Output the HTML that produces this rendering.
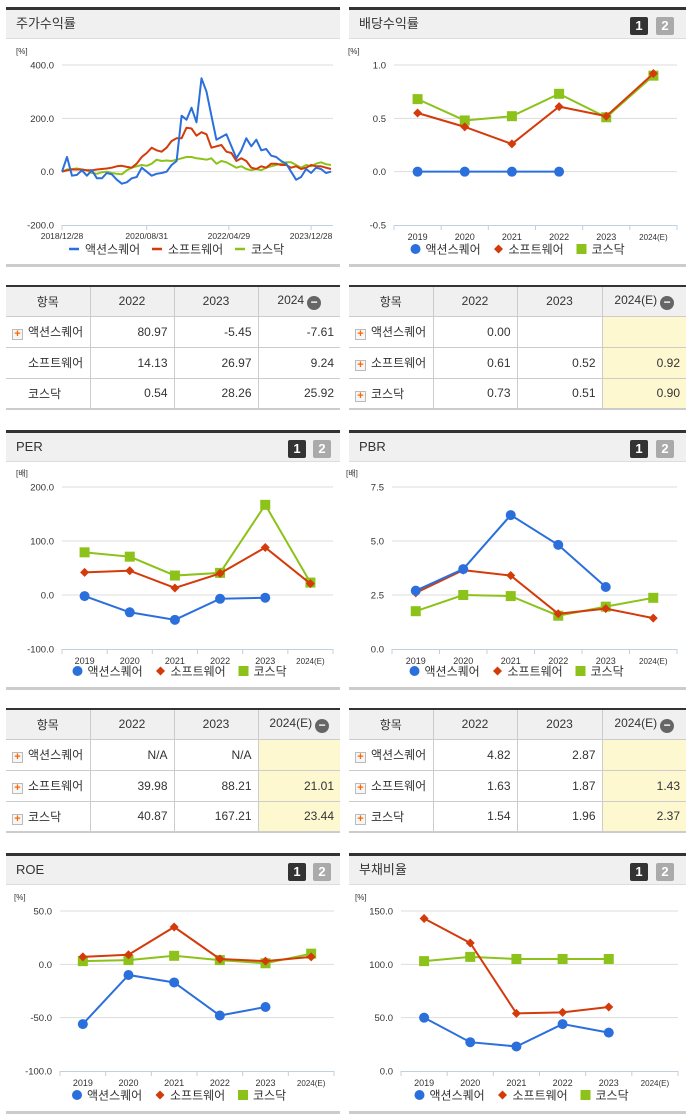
<!DOCTYPE html>
<html><head><meta charset="utf-8">
<style>
*{box-sizing:border-box;margin:0;padding:0}
body{width:691px;height:1115px;background:#fff;position:relative;overflow:hidden;font-family:"Liberation Sans","Noto Sans CJK KR",sans-serif;color:#333}
.hd{position:absolute;height:32px;background:#f0f0f0;border-top:3px solid #333;border-bottom:1px solid #ddd;font-size:13px;line-height:28px;padding-left:10px;color:#333}
.foot{position:absolute;height:3px;background:#ccc}
.b1,.b2{position:absolute;top:7px;width:18px;height:18px;border-radius:2px;color:#fff;font-size:13px;font-weight:bold;line-height:18px;text-align:center}
.b1{background:#333}.b2{background:#aaa}
table{position:absolute;border-collapse:collapse;font-size:12px;table-layout:fixed}
table{border-top:2px solid #333;border-bottom:2px solid #ccc}
th{background:#f0f0f0;font-weight:normal;height:30px;border:1px solid #ccc;border-top:none;text-align:center}
td{height:31px;border:1px solid #ccc;text-align:right;padding-right:6px}
td:first-child{text-align:left;padding-left:6px}
tr>*:first-child{border-left:none}tr>*:last-child{border-right:none}
.y{background:#fdf8d0}
.pl{display:inline-block;width:11px;height:11px;border:1px solid #bbb;background:#f6f6f6;color:#f60;font-size:11px;line-height:9px;text-align:center;font-weight:bold;margin-right:5px;vertical-align:-1px}
.mn{display:inline-block;width:14px;height:14px;border-radius:7px;background:#666;color:#fff;font-size:12px;line-height:13px;text-align:center;font-weight:bold;vertical-align:-2px;margin-left:3px}
svg{position:absolute;left:0;top:0}
</style></head><body>
<div class="hd" style="left:6px;top:7px;width:334px">주가수익률</div>
<div class="hd" style="left:349px;top:7px;width:337px">배당수익률<span class="b1" style="left:281px">1</span><span class="b2" style="left:307px">2</span></div>
<div class="foot" style="left:6px;top:264px;width:334px"></div>
<div class="foot" style="left:349px;top:264px;width:337px"></div>

<div class="hd" style="left:6px;top:430px;width:334px">PER<span class="b1" style="left:282px">1</span><span class="b2" style="left:307px">2</span></div>
<div class="hd" style="left:349px;top:430px;width:337px">PBR<span class="b1" style="left:281px">1</span><span class="b2" style="left:307px">2</span></div>
<div class="foot" style="left:6px;top:687px;width:334px"></div>
<div class="foot" style="left:349px;top:687px;width:337px"></div>

<div class="hd" style="left:6px;top:853px;width:334px">ROE<span class="b1" style="left:282px">1</span><span class="b2" style="left:307px">2</span></div>
<div class="hd" style="left:349px;top:853px;width:337px">부채비율<span class="b1" style="left:281px">1</span><span class="b2" style="left:307px">2</span></div>
<div class="foot" style="left:6px;top:1111px;width:334px"></div>
<div class="foot" style="left:349px;top:1111px;width:337px"></div>

<table style="left:6px;top:285px;width:334px">
<colgroup><col style="width:84px"><col style="width:84px"><col style="width:84px"><col></colgroup>
<tr><th>항목</th><th>2022</th><th>2023</th><th>2024<span class="mn">−</span></th></tr>
<tr><td><span class="pl">+</span>액션스퀘어</td><td>80.97</td><td>-5.45</td><td>-7.61</td></tr>
<tr><td style="padding-left:22px">소프트웨어</td><td>14.13</td><td>26.97</td><td>9.24</td></tr>
<tr><td style="padding-left:22px">코스닥</td><td>0.54</td><td>28.26</td><td>25.92</td></tr>
</table>
<table style="left:349px;top:285px;width:337px">
<colgroup><col style="width:84px"><col style="width:84px"><col style="width:85px"><col></colgroup>
<tr><th>항목</th><th>2022</th><th>2023</th><th>2024(E)<span class="mn">−</span></th></tr>
<tr><td><span class="pl">+</span>액션스퀘어</td><td>0.00</td><td></td><td class="y"></td></tr>
<tr><td><span class="pl">+</span>소프트웨어</td><td>0.61</td><td>0.52</td><td class="y">0.92</td></tr>
<tr><td><span class="pl">+</span>코스닥</td><td>0.73</td><td>0.51</td><td class="y">0.90</td></tr>
</table>
<table style="left:6px;top:708px;width:334px">
<colgroup><col style="width:84px"><col style="width:84px"><col style="width:84px"><col></colgroup>
<tr><th>항목</th><th>2022</th><th>2023</th><th>2024(E)<span class="mn">−</span></th></tr>
<tr><td><span class="pl">+</span>액션스퀘어</td><td>N/A</td><td>N/A</td><td class="y"></td></tr>
<tr><td><span class="pl">+</span>소프트웨어</td><td>39.98</td><td>88.21</td><td class="y">21.01</td></tr>
<tr><td><span class="pl">+</span>코스닥</td><td>40.87</td><td>167.21</td><td class="y">23.44</td></tr>
</table>
<table style="left:349px;top:708px;width:337px">
<colgroup><col style="width:84px"><col style="width:84px"><col style="width:85px"><col></colgroup>
<tr><th>항목</th><th>2022</th><th>2023</th><th>2024(E)<span class="mn">−</span></th></tr>
<tr><td><span class="pl">+</span>액션스퀘어</td><td>4.82</td><td>2.87</td><td class="y"></td></tr>
<tr><td><span class="pl">+</span>소프트웨어</td><td>1.63</td><td>1.87</td><td class="y">1.43</td></tr>
<tr><td><span class="pl">+</span>코스닥</td><td>1.54</td><td>1.96</td><td class="y">2.37</td></tr>
</table>

<svg id="cv" width="691" height="1115"></svg>
<script>
// ---- time series (stock return, %) ----
const tsBlue=[0,55,-15,-12,5,-15,5,-25,-25,-5,-10,-30,-45,-40,-25,-20,15,0,-15,-8,-5,0,25,40,210,195,240,185,350,300,210,120,130,140,95,50,80,125,95,120,80,85,60,55,40,30,0,-30,-20,10,-5,15,10,-5,0];
const tsRed=[0,5,8,8,8,5,5,8,10,12,15,20,22,18,15,30,55,70,90,80,75,90,115,125,125,165,162,135,148,140,90,95,100,75,70,40,50,40,15,10,20,15,30,30,25,25,15,20,10,15,25,20,20,15,10];
const tsGreen=[0,8,10,12,8,5,-5,-8,-2,0,-5,-8,-10,5,15,20,25,22,30,45,40,42,40,45,50,55,55,50,48,45,50,30,40,35,25,15,20,10,5,10,5,15,20,25,30,35,35,25,15,25,20,30,35,28,25];
const tsTickLabels=['2018/12/28','2020/08/31','2022/04/29','2023/12/28'];
const tsTickIdx=[0,17,33.5,50];
const tsYTicks=[400,200,0,-200];

// ---- categorical charts ----
const years=['2019','2020','2021','2022','2023','2024(E)'];
const divBlue=[0,0,0,0,null,null];
const divRed=[0.55,0.42,0.26,0.61,0.52,0.92];
const divGreen=[0.68,0.48,0.52,0.73,0.51,0.90];
const divTicks=[1.0,0.5,0.0,-0.5];
const perBlue=[-2,-32,-46,-7,-5,null];
const perRed=[42,45,13,40,88,21];
const perGreen=[79,71,36,41,167,23];
const perTicks=[200,100,0,-100];
const pbrBlue=[2.7,3.7,6.2,4.82,2.87,null];
const pbrRed=[2.6,3.65,3.4,1.63,1.87,1.43];
const pbrGreen=[1.75,2.5,2.45,1.54,1.96,2.37];
const pbrTicks=[7.5,5.0,2.5,0.0];
const roeBlue=[-56,-10,-17,-48,-40,null];
const roeRed=[7,9,35,5,3,7];
const roeGreen=[3,4,8,4,1,10];
const roeTicks=[50,0,-50,-100];
const debtBlue=[50,27,23,44,36,null];
const debtRed=[143,120,54,55,60,null];
const debtGreen=[103,107,105,105,105,null];
const debtTicks=[150,100,50,0];

const NS='http://www.w3.org/2000/svg';
const svg=document.getElementById('cv');
const C={b:'#2a6fdb',r:'#d43a0a',g:'#8cc21a'};
function mk(t,a,p){const e=document.createElementNS(NS,t);for(const k in a)e.setAttribute(k,a[k]);(p||svg).appendChild(e);return e;}
function txt(x,y,s,sz,anchor,p){const e=mk('text',{x:x,y:y,'font-size':sz,'text-anchor':anchor||'start',fill:'#333','font-family':'"Liberation Sans","Noto Sans CJK KR",sans-serif'},p);e.textContent=s;return e;}

function yAxisFn(y0,y1,max,min){return v=>y0+(max-v)/(max-min)*(y1-y0);}

function frame(g,x0,x1,y0,y1,ticks,unit){
  const sy=yAxisFn(y0,y1,ticks[0],ticks[ticks.length-1]);
  txt(x0-46,y0-11,unit,8,'start',g);
  ticks.forEach((t,i)=>{
    const y=sy(t);
    if(i<ticks.length-1){const gl=mk('line',{x1:x0,x2:x1,y1:y,y2:y,stroke:'#ddd','stroke-width':1},g);
      
      }
    const tl=txt(x0-8,y+3.5,t.toFixed(1),9.5,'end',g);
    
    
  });
  const ax=mk('line',{x1:x0,x2:x1,y1:y1+0.5,y2:y1+0.5,stroke:'#c0d0e0','stroke-width':1},g);
  
  
  return sy;
}

function legend(g,cx,y,markerType){
  const items=[['액션스퀘어',C.b,'circle'],['소프트웨어',C.r,'diamond'],['코스닥',C.g,'square']];
  let x=cx;
  const widths=[83,83,50];
  items.forEach((it,i)=>{
    const lg=mk('g',{},g);
    
    
    if(markerType==='line'){mk('line',{x1:x-6,x2:x+4,y1:y,y2:y,stroke:it[1],'stroke-width':2.5},lg);}
    else marker(lg,x,y,it[2],it[1]);
    txt(x+10,y+4.5,it[0],12,'start',lg);
    x+=widths[i];
  });
}
function marker(p,x,y,type,col){
  if(type==='circle')return mk('circle',{cx:x,cy:y,r:5,fill:col},p);
  if(type==='diamond')return mk('path',{d:`M${x} ${y-4.5}L${x+4.5} ${y}L${x} ${y+4.5}L${x-4.5} ${y}Z`,fill:col},p);
  return mk('rect',{x:x-5,y:y-5,width:10,height:10,fill:col},p);
}

function catChart(name,x0,x1,y0,y1,ticks,unit,series,legY){
  const g=mk('g',{});
  
  
  const sy=frame(g,x0,x1,y0,y1,ticks,unit);
  const n=years.length,bw=(x1-x0)/n;
  const sx=i=>x0+bw*(i+0.5);
  for(let i=0;i<=n;i++)mk('line',{x1:x0+bw*i,x2:x0+bw*i,y1:y1,y2:y1+5,stroke:'#c0d0e0'},g);
  years.forEach((yr,i)=>{const t=txt(sx(i),y1+15,yr,yr.length>4?8:9,'middle',g);
    
    });
  series.forEach(s=>{
    let d='';let pen=false;
    s.vals.forEach((v,i)=>{if(v==null){pen=false;return;}d+=(pen?'L':'M')+sx(i)+' '+sy(v);pen=true;});
    const ln=mk('path',{d:d,fill:'none',stroke:s.col,'stroke-width':2},g);
    
    
    s.vals.forEach((v,i)=>{if(v==null)return;
      const m=marker(g,sx(i),sy(v),s.type,s.col);
      
      });
  });
  legend(g,(x0+x1)/2-120,legY,'marker');
}
function S(b,r,gr){return [{key:'kosdaq',vals:gr,col:C.g,type:'square'},{key:'software',vals:r,col:C.r,type:'diamond'},{key:'actionsquare',vals:b,col:C.b,type:'circle'}];}

// time series chart
(function(){
  const x0=62,x1=333,y0=65,y1=225;
  const g=mk('g',{});
  
  
  const sy=frame(g,x0,x1,y0,y1,tsYTicks,'[%]');
  const n=tsBlue.length;const sx=i=>x0+(x1-2-x0)*i/(n-1);
  tsTickIdx.forEach((ti,k)=>{const x=sx(ti);mk('line',{x1:x,x2:x,y1:y1,y2:y1+5,stroke:'#c0d0e0'},g);
    const t=txt(x,y1+14,tsTickLabels[k],8.5,'middle',g);
    
    });
  mk('line',{x1:x0,x2:x0,y1:y1,y2:y1+5,stroke:'#c0d0e0'},g);
  [[tsGreen,C.g,'kosdaq'],[tsRed,C.r,'software'],[tsBlue,C.b,'actionsquare']].forEach(s=>{
    const d=s[0].map((v,i)=>(i?'L':'M')+sx(i).toFixed(1)+' '+sy(v).toFixed(1)).join('');
    const p=mk('path',{d:d,fill:'none',stroke:s[1],'stroke-width':2,'stroke-linejoin':'round'},g);
    
    
  });
  legend(g,75,249,'line');
})();

catChart('dividend-yield-chart',394,677,65,225,divTicks,'[%]',S(divBlue,divRed,divGreen),249);
catChart('per-chart',62,333,487,649,perTicks,'[배]',S(perBlue,perRed,perGreen),671);
catChart('pbr-chart',392,677,487,649,pbrTicks,'[배]',S(pbrBlue,pbrRed,pbrGreen),671);
catChart('roe-chart',60,334,911,1071,roeTicks,'[%]',S(roeBlue,roeRed,roeGreen),1095);
catChart('debt-ratio-chart',401,678,911,1071,debtTicks,'[%]',S(debtBlue,debtRed,debtGreen),1095);
</script>
</body></html>
